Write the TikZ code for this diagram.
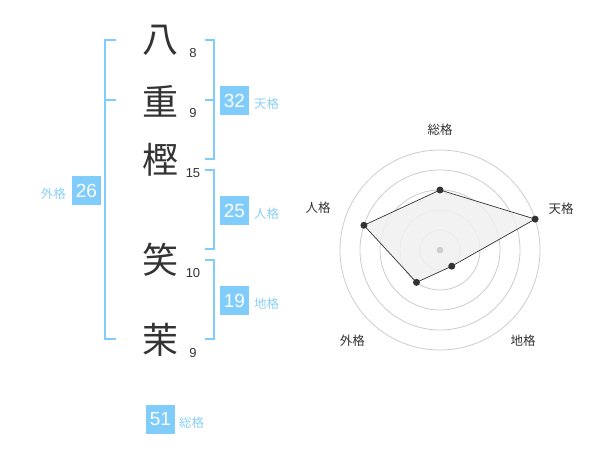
\documentclass[tikz,border=0pt]{standalone}
\usepackage{fontspec}
\setmainfont{Liberation Sans}
\newfontfamily\cjk{Noto Sans CJK JP}
\definecolor{sky}{RGB}{128,204,250}
\definecolor{skytxt}{RGB}{140,208,248}
\definecolor{ink}{RGB}{51,51,51}
\definecolor{ring}{RGB}{204,204,204}
\definecolor{area}{RGB}{240,240,240}
\begin{document}
\begin{tikzpicture}[x=1pt,y=-1pt,
  kanji/.style={inner sep=0pt,text=ink,font=\cjk\fontsize{36}{36}\selectfont},
  stroke/.style={inner sep=0pt,text=ink,font=\fontsize{13}{13}\selectfont},
  valbox/.style={fill=sky,text=white,inner sep=0pt,minimum width=29pt,minimum height=29pt,font=\fontsize{19}{19}\selectfont},
  kaku/.style={inner sep=0pt,text=skytxt,font=\cjk\fontsize{12.5}{12.5}\selectfont},
  bracket/.style={draw=sky,line width=2pt},
  rlabel/.style={inner sep=0pt,text=ink,font=\cjk\fontsize{12.5}{12.5}\selectfont},
  ringline/.style={draw=ring,line width=0.8pt},
  vdot/.style={circle,fill=ink,inner sep=0pt,minimum size=7pt}]
\useasboundingbox (0,0) rectangle (600,470);
% characters
\node[kanji] (k1) at (160,40) {八};
\node[kanji] (k2) at (160,101) {重};
\node[kanji] (k3) at (160,160) {樫};
\node[kanji] (k4) at (160,260) {笑};
\node[kanji] (k5) at (160,340) {茉};
\node[stroke] (s1) at (193,53) {8};
\node[stroke] (s2) at (193,113) {9};
\node[stroke] (s3) at (193,173) {15};
\node[stroke] (s4) at (193,273) {10};
\node[stroke] (s5) at (193,353) {9};
% brackets
\draw[bracket] (116,40) -- (105,40) -- (105,339) -- (116,339);
\draw[bracket] (105,100) -- (116,100);
\draw[bracket] (205,40) -- (214,40) -- (214,159) -- (205,159);
\draw[bracket] (205,100) -- (214,100);
\draw[bracket] (205,170) -- (214,170) -- (214,249) -- (205,249);
\draw[bracket] (205,260) -- (214,260) -- (214,339) -- (205,339);
% value boxes
\node[valbox] (ten) at (234.5,100.5) {32};
\node[kaku,anchor=west] (tenl) at (254,104) {天格};
\node[valbox] (jin) at (234.5,210.5) {25};
\node[kaku,anchor=west] (jinl) at (254,214) {人格};
\node[valbox] (chi) at (234.5,300.5) {19};
\node[kaku,anchor=west] (chil) at (254,304) {地格};
\node[valbox] (gai) at (86.5,190.5) {26};
\node[kaku,anchor=east] (gail) at (66,194) {外格};
\node[valbox] (sou) at (160.5,419) {51};
\node[kaku,anchor=west] (soul) at (179,423) {総格};
% radar
\begin{scope}[shift={(440,250)},yscale=-1]
  \foreach \r in {20,40,60,80,100} \draw[ringline] (0,0) circle[radius=\r];
  \coordinate (pS) at (90:60);
  \coordinate (pT) at (18:100);
  \coordinate (pC) at (-54:20);
  \coordinate (pG) at (-126:40);
  \coordinate (pJ) at (162:80);
  \filldraw[fill=area,fill opacity=0.85,draw=ink,line width=0.7pt] (pS) -- (pT) -- (pC) -- (pG) -- (pJ) -- cycle;
  \fill[ring] (0,0) circle[radius=3.3];
  \foreach \p in {pS,pT,pC,pG,pJ} \node[vdot] at (\p) {};
  \node[rlabel] (lS) at (90:120) {総格};
  \node[rlabel] (lT) at (19:128) {天格};
  \node[rlabel] (lJ) at (161:129) {人格};
  \node[rlabel] (lG) at (-134:126) {外格};
  \node[rlabel] (lC) at (-47.5:123) {地格};
\end{scope}
\end{tikzpicture}
\end{document}
